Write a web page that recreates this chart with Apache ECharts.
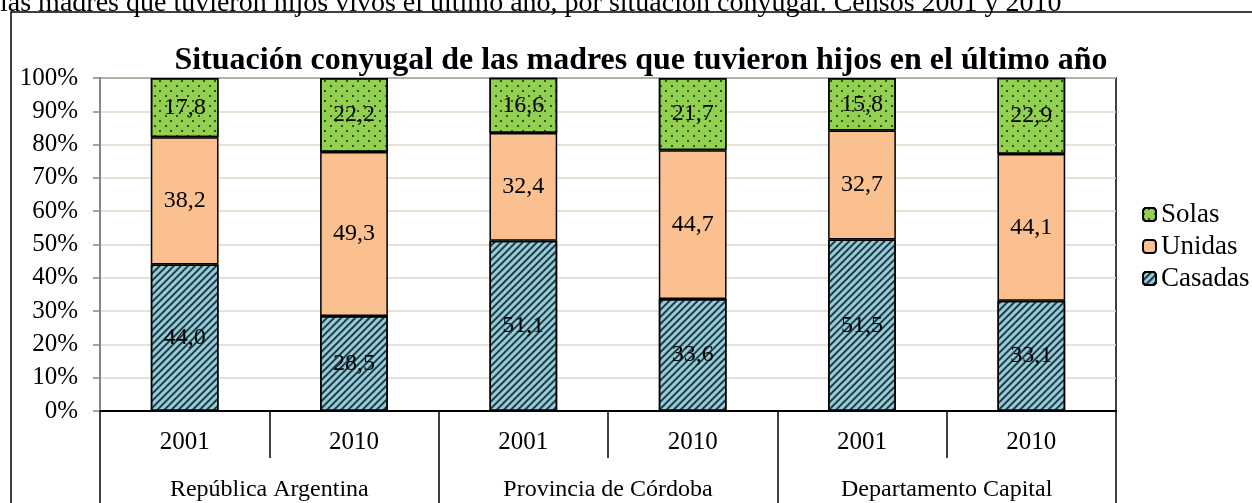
<!DOCTYPE html>
<html>
<head>
<meta charset="utf-8">
<script src="https://cdn.jsdelivr.net/npm/echarts@6/dist/echarts.min.js"></script>
<style>
  html, body { margin: 0; padding: 0; background: #fff; }
  #chart { width: 1252px; height: 503px; }
</style>
</head>
<body>
<div id="chart"></div>
<script>
// datos
var anios = ["2001", "2010", "2001", "2010", "2001", "2010"];
var regiones = ["República Argentina", "Provincia de Córdoba", "Departamento Capital"];
var casadas = [44.0, 28.5, 51.1, 33.6, 51.5, 33.1];
var unidas = [38.2, 49.3, 32.4, 44.7, 32.7, 44.1];
var solas = [17.8, 22.2, 16.6, 21.7, 15.8, 22.9];
var yTicks = [0, 10, 20, 30, 40, 50, 60, 70, 80, 90, 100];

var FONT = "Liberation Serif";
var myChart = echarts.init(document.getElementById("chart"));

function etiqueta(p) {
  return p.value.toFixed(1).replace(".", ",");
}

var labelCfg = {
  show: true,
  position: "inside",
  color: "#000",
  fontSize: 24,
  fontFamily: FONT,
  formatter: etiqueta
};

var option = {
  animation: false,
  backgroundColor: "#fff",
  title: {
    text: "Situación conyugal de las madres que tuvieron hijos en el último año",
    left: 636,
    textAlign: "center",
    top: 40,
    textStyle: {
      color: "#000",
      fontSize: 32,
      fontWeight: "bold",
      fontFamily: FONT
    }
  },
  graphic: [
    {
      type: "rect",
      z: -10,
      shape: { x: 11, y: 12, width: 1400, height: 700 },
      style: { fill: "none", stroke: "#000", lineWidth: 1.5 }
    },
    {
      type: "text",
      x: 0,
      y: 4,
      style: {
        text: "las madres que tuvieron hijos vivos el último año, por situación conyugal. Censos 2001 y 2010",
        font: "28px " + FONT,
        fill: "#000",
        verticalAlign: "middle"
      }
    }
  ],
  legend: {
    orient: "vertical",
    left: 1137,
    top: 196,
    itemWidth: 13,
    itemHeight: 13,
    itemGap: 5,
    data: ["Solas", "Unidas", "Casadas"],
    textStyle: { color: "#000", fontSize: 27, fontFamily: FONT }
  },
  grid: {
    left: 100,
    right: 136,
    top: 78,
    bottom: 92,
    show: true,
    borderColor: "#000",
    borderWidth: 1.5
  },
  xAxis: [
    {
      type: "category",
      position: "bottom",
      data: anios,
      axisLine: { lineStyle: { color: "#000", width: 2 } },
      axisTick: { show: true, interval: 0, length: 47, lineStyle: { color: "#000", width: 1.5 } },
      axisLabel: { interval: 0, color: "#000", fontSize: 25, fontFamily: FONT, margin: 19 }
    },
    {
      type: "category",
      position: "bottom",
      data: regiones,
      axisLine: { show: false },
      axisTick: { show: true, interval: 0, length: 110, lineStyle: { color: "#000", width: 1.5 } },
      axisLabel: { interval: 0, color: "#000", fontSize: 24, fontFamily: FONT, margin: 67 }
    }
  ],
  yAxis: {
    type: "value",
    min: yTicks[0],
    max: yTicks[yTicks.length - 1],
    interval: 10,
    axisLine: { show: true, lineStyle: { color: "#868686", width: 2 } },
    axisTick: { show: true, length: 7, lineStyle: { color: "#868686", width: 1.5 } },
    axisLabel: {
      color: "#000",
      fontSize: 25,
      fontFamily: FONT,
      margin: 22,
      formatter: function (v) { return v + "%"; }
    },
    splitLine: { lineStyle: { color: "#ddd9c4", width: 1.5 } }
  },
  series: [
    {
      name: "Casadas",
      type: "bar",
      stack: "total",
      barWidth: "40%",
      data: casadas,
      label: labelCfg,
      itemStyle: {
        color: "#92cddc",
        borderColor: "#000",
        borderWidth: 1.5,
        decal: {
          symbol: "rect",
          color: "rgba(20,30,35,0.85)",
          dashArrayX: [1, 0],
          dashArrayY: [2, 3],
          rotation: -Math.PI / 4
        }
      }
    },
    {
      name: "Unidas",
      type: "bar",
      stack: "total",
      data: unidas,
      label: labelCfg,
      itemStyle: { color: "#fac090", borderColor: "#000", borderWidth: 1.5 }
    },
    {
      name: "Solas",
      type: "bar",
      stack: "total",
      data: solas,
      label: labelCfg,
      itemStyle: {
        color: "#92d050",
        borderColor: "#000",
        borderWidth: 1.5,
        decal: {
          symbol: "circle",
          symbolSize: 1,
          color: "rgba(0,0,0,0.85)",
          dashArrayX: [[2, 9], [0, 5, 2, 4]],
          dashArrayY: [2, 3],
          rotation: 0
        }
      }
    }
  ]
};

myChart.setOption(option);
</script>
</body>
</html>
